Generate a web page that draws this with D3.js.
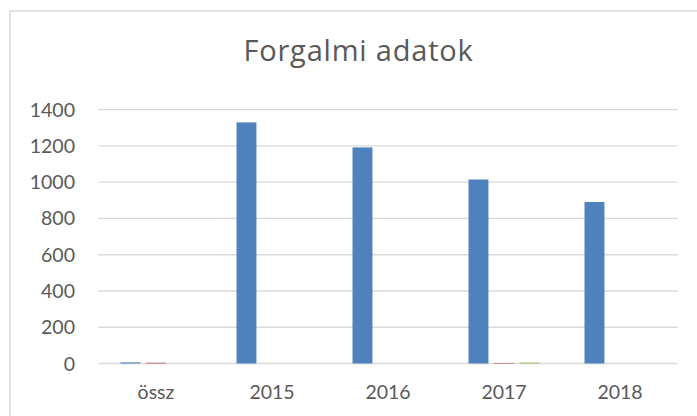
<!DOCTYPE html>
<html>
<head>
<meta charset="utf-8">
<script src="https://cdn.jsdelivr.net/npm/d3@7"></script>
<style>
  html, body { margin: 0; padding: 0; background: #fff; }
  svg text { font-family: Lato, "Open Sans", sans-serif; fill: #595959; }
</style>
</head>
<body>
<svg id="chart" width="697" height="416"></svg>
<script>
// chart data
const categories = ["össz", "2015", "2016", "2017", "2018"];
const seriesNames = ["s1", "s2", "s3"];
const seriesColors = ["#4f81bd", "#c0504d", "#9bbb59"];
const s1 = [6, 1330, 1192, 1015, 891];
const s2 = [4, 0, 0, 3, 0];
const s3 = [0, 0, 0, 5, 0];
const yTicks = [0, 200, 400, 600, 800, 1000, 1200, 1400];
const title = "Forgalmi adatok";

const width = 697, height = 416;
const margin = { left: 98, right: 19, top: 109.7, bottom: 52.5 };

const svg = d3.select("#chart");

// outer chart border
svg.append("rect")
  .attr("x", 10).attr("y", 11)
  .attr("width", 697).attr("height", 420)
  .attr("fill", "none")
  .attr("stroke", "#d9d9d9")
  .attr("stroke-width", 1.5);

const x = d3.scaleBand()
  .domain(categories)
  .range([margin.left, width - margin.right]);

const y = d3.scaleLinear()
  .domain([0, 1400])
  .range([height - margin.bottom, margin.top]);

const xInner = d3.scaleBand()
  .domain(seriesNames)
  .range([-35.5, 35.5])
  .paddingInner(0.22);

// gridlines
svg.append("g")
  .selectAll("line")
  .data(yTicks)
  .enter()
  .append("line")
  .attr("x1", margin.left)
  .attr("x2", width - margin.right)
  .attr("y1", (d) => y(d))
  .attr("y2", (d) => y(d))
  .attr("stroke", "#d9d9d9")
  .attr("stroke-width", 1.3);

// y tick labels
svg.append("g")
  .selectAll("text")
  .data(yTicks)
  .enter()
  .append("text")
  .attr("x", 75)
  .attr("y", (d) => y(d))
  .attr("dy", "0.36em")
  .attr("text-anchor", "end")
  .style("font-size", "19.5px")
  .text((d) => d);

// x labels
svg.append("g")
  .selectAll("text")
  .data(categories)
  .enter()
  .append("text")
  .attr("x", (d) => x(d) + x.bandwidth() / 2)
  .attr("y", 399)
  .attr("text-anchor", "middle")
  .style("font-size", "19.5px")
  .text((d) => d);

// bars
const series = [s1, s2, s3];
series.forEach((vals, i) => {
  svg.append("g")
    .selectAll("rect")
    .data(vals.map((v, j) => ({ cat: categories[j], v })))
    .enter()
    .append("rect")
    .attr("x", (d) => x(d.cat) + x.bandwidth() / 2 + xInner(seriesNames[i]))
    .attr("width", xInner.bandwidth())
    .attr("y", (d) => y(d.v))
    .attr("height", (d) => y(0) - y(d.v))
    .attr("fill", seriesColors[i]);
});

// title
svg.append("text")
  .attr("x", 358.5)
  .attr("y", 61)
  .attr("text-anchor", "middle")
  .style("font-family", "'Open Sans', sans-serif")
  .style("font-size", "29px")
  .style("letter-spacing", "0.8px")
  .text(title);
</script>
</body>
</html>
